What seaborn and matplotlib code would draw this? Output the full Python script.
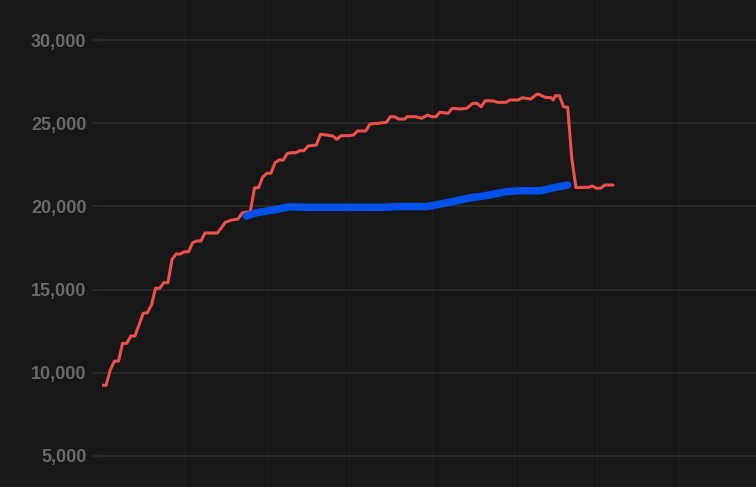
import matplotlib
matplotlib.use("Agg")
import matplotlib.pyplot as plt
import matplotlib.ticker as mticker
import pandas as pd
import seaborn as sns

# red series, x in day units
red_x = [0, 1, 2, 3, 4, 5, 6, 7, 8, 10, 11, 12, 13, 14, 15, 16, 17, 18, 19, 20,
         21, 22, 23, 24, 25, 28, 30, 31.5, 33, 34, 35, 36, 37, 38, 39, 40, 41, 42,
         43, 44, 45, 46, 47, 48, 49, 50, 52, 53, 54.5, 56, 57, 58, 60, 61, 62, 64,
         65, 67, 69, 70, 71, 72, 73.5, 74, 76, 77.6, 79, 80, 81, 82, 84, 85, 87,
         88.5, 90, 91, 92, 93, 95, 96, 98, 99, 101, 102, 104, 105.5, 106, 107.5,
         109, 109.5, 110, 111, 112, 113, 114, 115, 118, 119, 120, 121, 122, 124]
red_y = [9250, 9250, 10170, 10700, 10700, 11770, 11770, 12210, 12210, 13575,
         13610, 14075, 15080, 15080, 15415, 15415, 16820, 17140, 17140, 17275,
         17275, 17820, 17920, 17920, 18400, 18400, 19060, 19180, 19240, 19600,
         19660, 19680, 21105, 21135, 21765, 21990, 21990, 22625, 22790, 22790,
         23190, 23225, 23225, 23345, 23345, 23630, 23690, 24330, 24290, 24230,
         24030, 24250, 24250, 24290, 24530, 24530, 24950, 24995, 25055, 25390,
         25390, 25250, 25250, 25390, 25390, 25295, 25490, 25390, 25390, 25655,
         25595, 25895, 25855, 25895, 26195, 26195, 25990, 26350, 26335, 26255,
         26255, 26395, 26395, 26530, 26455, 26735, 26735, 26555, 26530, 26395,
         26650, 26650, 25990, 25955, 22890, 21135, 21150, 21225, 21090, 21090,
         21285, 21285]

# blue series
blue_x = [35, 37.5, 41.5, 45.5, 49, 55, 63, 68, 72, 79, 83, 89.5, 93, 98,
          101.5, 106.5, 109, 113]
blue_y = [19420, 19620, 19780, 19980, 19945, 19945, 19945, 19945, 19990, 19990,
          20185, 20520, 20640, 20880, 20940, 20940, 21090, 21285]

y_ticks = [5000, 10000, 15000, 20000, 25000, 30000]

bg = "#181818"
sns.set_theme(style="dark", rc={
    "figure.facecolor": bg,
    "axes.facecolor": bg,
    "savefig.facecolor": bg,
})
plt.rcParams["font.family"] = ["Liberation Sans", "DejaVu Sans"]

red = pd.DataFrame({"x": red_x, "y": red_y})
blue = pd.DataFrame({"x": blue_x, "y": blue_y})

fig = plt.figure(figsize=(7.56, 4.87), dpi=100)
ax = fig.add_axes([102 / 756, 0, 1 - 102 / 756, 1])

sns.lineplot(data=red, x="x", y="y", ax=ax, color="#f0504c", linewidth=2.2,
             solid_capstyle="round", solid_joinstyle="round")
sns.lineplot(data=blue, x="x", y="y", ax=ax, color="#0052ee", linewidth=5.4,
             solid_capstyle="round", solid_joinstyle="round")

ax.set_xlim(0, 158.7)
ax.set_ylim(3137, 32404)
ax.set_xticks([20, 40, 60, 80, 100, 120, 140])
ax.set_yticks(y_ticks)
ax.yaxis.set_major_formatter(mticker.FuncFormatter(lambda v, p: f"{int(v):,}"))
ax.set_xticklabels([])
ax.set_xlabel("")
ax.set_ylabel("")

ax.yaxis.grid(True, color="#2b2b2b", linewidth=1.3)
ax.xaxis.grid(True, color="#1f1f1f", linewidth=0.8)
ax.set_axisbelow(True)
for s in ax.spines.values():
    s.set_visible(False)

ax.tick_params(axis="x", length=0)
ax.tick_params(axis="y", length=7.5, width=1.2, color="#2b2b2b", pad=3.6,
               labelsize=13, labelcolor="#686868", left=True)
for lbl in ax.get_yticklabels():
    lbl.set_fontweight("bold")

fig.savefig("out.png", dpi=100)
